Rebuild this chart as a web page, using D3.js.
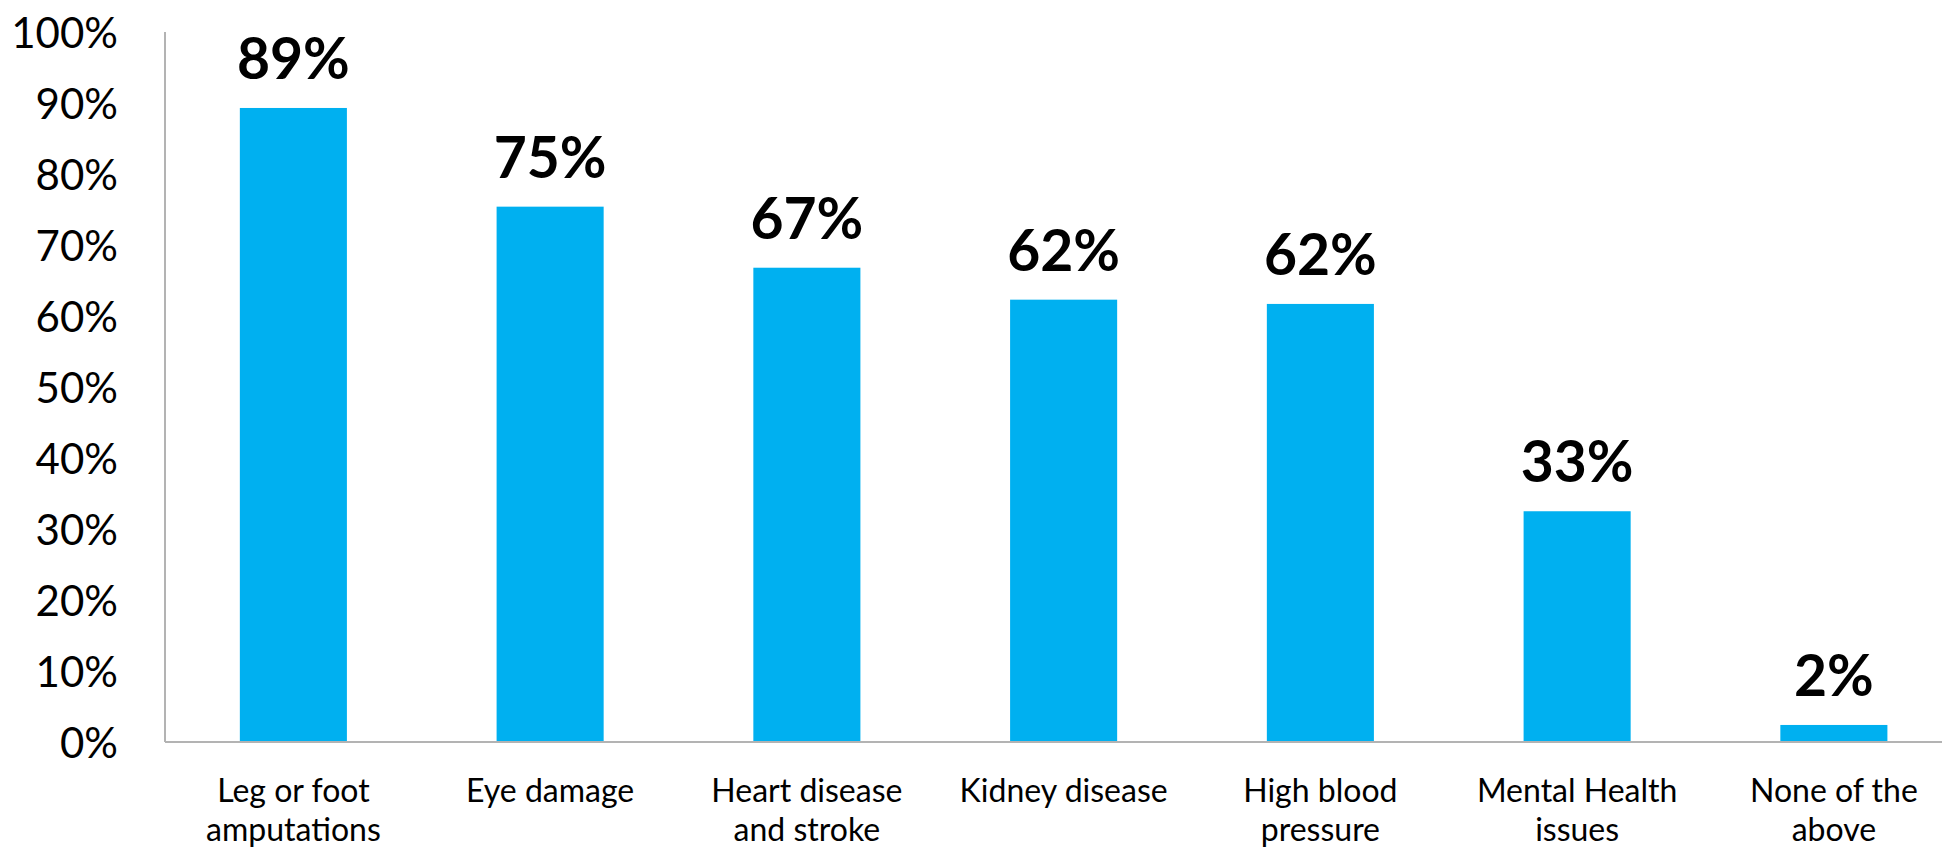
<!DOCTYPE html>
<html>
<head>
<meta charset="utf-8">
<script src="https://cdn.jsdelivr.net/npm/d3@7"></script>
<style>
  body { margin: 0; background: #fff; }
  text { font-family: Lato, "Open Sans", sans-serif; fill: #000; }
</style>
</head>
<body>
<div id="chart"></div>
<script>
// chart data
var categories = [
  "Leg or foot\namputations",
  "Eye damage",
  "Heart disease\nand stroke",
  "Kidney disease",
  "High blood\npressure",
  "Mental Health\nissues",
  "None of the\nabove"
];
var values = [89.3, 75.4, 66.8, 62.3, 61.7, 32.5, 2.4];
var yTicks = [0, 10, 20, 30, 40, 50, 60, 70, 80, 90, 100];

var W = 1946, H = 854;
var margin = { top: 32, right: 4, bottom: 112, left: 165 },
  width = W - margin.left - margin.right,
  height = H - margin.top - margin.bottom;

var svg = d3
  .select("#chart")
  .append("svg")
  .attr("width", W)
  .attr("height", H)
  .append("g")
  .attr("transform", "translate(" + margin.left + "," + margin.top + ")");

// the band scale runs a little past the visible axis (cut off at the right, as in the original)
var step = 256.75;
var x = d3.scaleBand().domain(categories).range([0, step * categories.length]).paddingInner(0.583).paddingOuter(0.2915);
var y = d3.scaleLinear().domain([0, 100]).range([height, 0]);

// Y axis labels
var yAxis = svg
  .append("g")
  .call(d3.axisLeft(y).tickValues(yTicks).tickSize(0).tickPadding(47).tickFormat(function (d) { return d + "%"; }));
yAxis.select(".domain").remove();
yAxis.selectAll("text")
  .style("font-family", "Lato, sans-serif")
  .style("font-size", "42px")
  .attr("dy", "0.36em");

// bars
svg
  .selectAll("rect.bar")
  .data(values)
  .enter()
  .append("rect")
  .attr("class", "bar")
  .attr("x", function (d, i) { return x(categories[i]); })
  .attr("y", function (d) { return y(d); })
  .attr("width", x.bandwidth())
  .attr("height", function (d) { return height - y(d); })
  .attr("fill", "#00b0f0");

// value labels
svg
  .selectAll("text.val")
  .data(values)
  .enter()
  .append("text")
  .attr("class", "val")
  .attr("x", function (d, i) { return x(categories[i]) + x.bandwidth() / 2; })
  .attr("y", function (d) { return y(d) - 29; })
  .attr("text-anchor", "middle")
  .style("font-size", "57px")
  .style("font-weight", "bold")
  .text(function (d) { return Math.round(d) + "%"; });

// axis lines
svg.append("line")
  .attr("x1", 0).attr("x2", 0).attr("y1", 0).attr("y2", height)
  .attr("stroke", "#b3b3b3").attr("stroke-width", 2);
svg.append("line")
  .attr("x1", 0).attr("x2", width).attr("y1", height).attr("y2", height)
  .attr("stroke", "#b3b3b3").attr("stroke-width", 2);

// category labels
var cat = svg
  .selectAll("text.cat")
  .data(categories)
  .enter()
  .append("text")
  .attr("class", "cat")
  .attr("text-anchor", "middle")
  .attr("transform", function (d) { return "translate(" + (x(d) + x.bandwidth() / 2) + "," + (height + 60) + ")"; })
  .style("font-size", "32px");
cat
  .selectAll("tspan")
  .data(function (d) { return d.split("\n"); })
  .enter()
  .append("tspan")
  .attr("x", 0)
  .attr("y", function (d, i) { return i * 38.5; })
  .text(function (d) { return d; });
</script>
</body>
</html>
